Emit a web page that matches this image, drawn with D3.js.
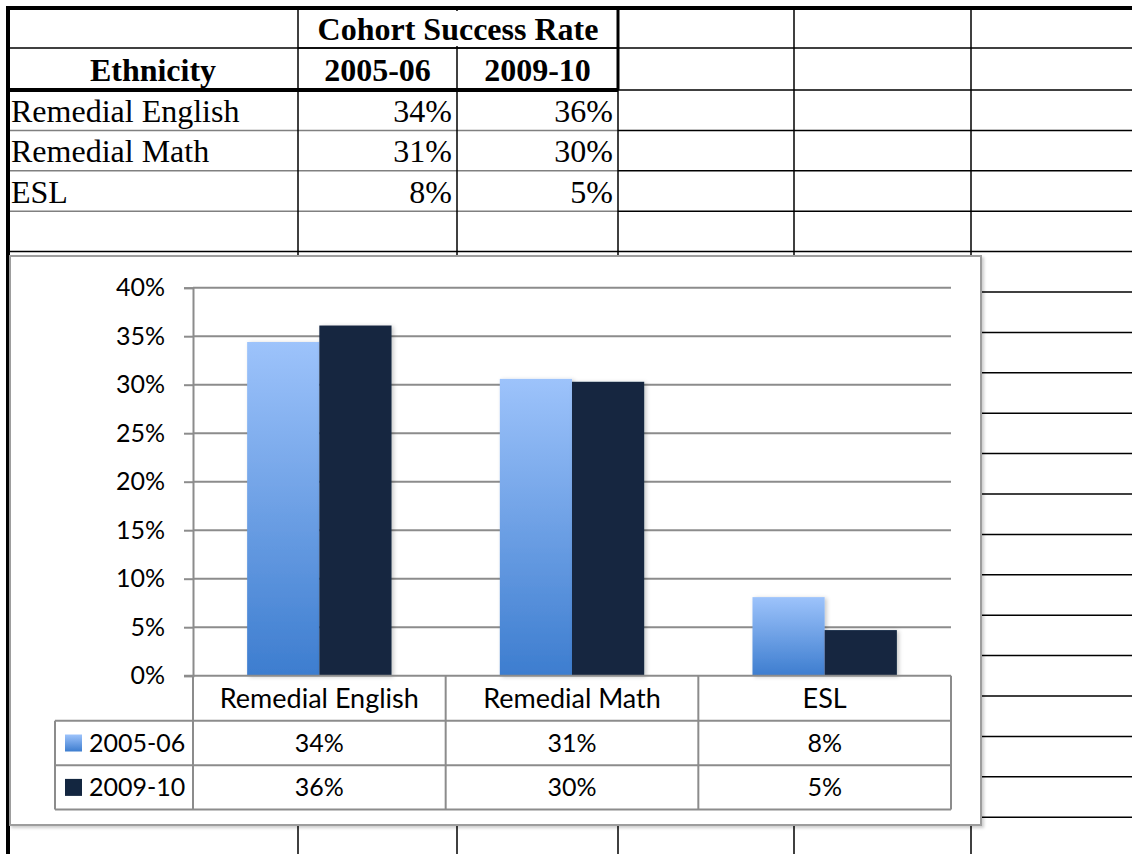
<!DOCTYPE html>
<html>
<head>
<meta charset="utf-8">
<script src="https://cdn.jsdelivr.net/npm/d3@7"></script>
<style>
  body { margin: 0; background: #fff; }
  svg { display: block; }
</style>
</head>
<body>
<svg width="1132" height="854"></svg>
<script>
const categories = ['Remedial English', 'Remedial Math', 'ESL'];
const seriesNames = ['2005-06', '2009-10'];
const values0506 = [0.344, 0.306, 0.081];
const values0910 = [0.361, 0.303, 0.047];
const yTicks = [0, 0.05, 0.1, 0.15, 0.2, 0.25, 0.3, 0.35, 0.4];

const series = [
  { name: seriesNames[0], values: values0506, fill: 'url(#lightGrad)' },
  { name: seriesNames[1], values: values0910, fill: '#132640' },
];

const pct = d3.format('.0%');
const svg = d3.select('svg');

const defs = svg.append('defs');
const grad = defs.append('linearGradient')
  .attr('id', 'lightGrad')
  .attr('x1', 0).attr('y1', 0).attr('x2', 0).attr('y2', 1);
grad.append('stop').attr('offset', '0%').attr('stop-color', '#9dc3fb');
grad.append('stop').attr('offset', '100%').attr('stop-color', '#3d7dcf');

const shadow = defs.append('filter').attr('id', 'shadow')
  .attr('x', '-10%').attr('y', '-10%').attr('width', '130%').attr('height', '130%');
shadow.append('feDropShadow')
  .attr('dx', 2).attr('dy', 1).attr('stdDeviation', 2)
  .attr('flood-color', '#000').attr('flood-opacity', 0.22);

const boxShadow = defs.append('filter').attr('id', 'boxShadow')
  .attr('x', '-2%').attr('y', '-2%').attr('width', '104%').attr('height', '104%');
boxShadow.append('feDropShadow')
  .attr('dx', 2).attr('dy', 2).attr('stdDeviation', 1.5)
  .attr('flood-color', '#000').attr('flood-opacity', 0.2);

// ---- spreadsheet behind the chart ----
const sheet = svg.append('g').attr('class', 'sheet');
const colX = [8, 298, 457, 618, 794, 971];
const rowY = [8, 48, 90];
for (let i = 1; i <= 18; i++) rowY.push(90 + i * 40.4);

// horizontal row lines (gray inside the data block, black elsewhere)
rowY.slice(1).forEach((ry, i) => {
  const inData = i >= 2 && i <= 4;
  sheet.append('line')
    .attr('x1', 8).attr('x2', inData ? 618 : 1132)
    .attr('y1', ry).attr('y2', ry)
    .attr('stroke', inData ? '#808080' : '#000')
    .attr('stroke-width', 1.5);
  if (inData) {
    sheet.append('line')
      .attr('x1', 618).attr('x2', 1132)
      .attr('y1', ry).attr('y2', ry)
      .attr('stroke', '#000').attr('stroke-width', 1.5);
  }
});

// vertical column lines
sheet.selectAll('line.col')
  .data(colX.slice(1))
  .enter()
  .append('line')
  .attr('class', 'col')
  .attr('x1', d => d).attr('x2', d => d)
  .attr('y1', 8).attr('y2', 854)
  .attr('stroke', '#000')
  .attr('stroke-width', 1.5);

// thick borders
sheet.append('line').attr('x1', 8).attr('x2', 1132).attr('y1', 8).attr('y2', 8)
  .attr('stroke', '#000').attr('stroke-width', 4);
sheet.append('line').attr('x1', 8).attr('x2', 8).attr('y1', 6).attr('y2', 854)
  .attr('stroke', '#000').attr('stroke-width', 4);
sheet.append('line').attr('x1', 8).attr('x2', 618).attr('y1', 90).attr('y2', 90)
  .attr('stroke', '#000').attr('stroke-width', 4);
sheet.append('line').attr('x1', 618).attr('x2', 618).attr('y1', 8).attr('y2', 90)
  .attr('stroke', '#000').attr('stroke-width', 3);
// merged header cell has no divider in first row
sheet.append('rect').attr('x', 300).attr('y', 11).attr('width', 316).attr('height', 35).attr('fill', '#fff');
sheet.append('line').attr('x1', 298).attr('x2', 618).attr('y1', 48).attr('y2', 48)
  .attr('stroke', '#000').attr('stroke-width', 1.5);

const serif = 'Liberation Serif, Times New Roman, serif';
sheet.append('text').text('Cohort Success Rate')
  .attr('x', (298 + 618) / 2).attr('y', 40)
  .attr('text-anchor', 'middle').attr('font-family', serif)
  .attr('font-weight', 'bold').attr('font-size', 32);
sheet.append('text').text('Ethnicity')
  .attr('x', (8 + 298) / 2).attr('y', 81)
  .attr('text-anchor', 'middle').attr('font-family', serif)
  .attr('font-weight', 'bold').attr('font-size', 32);
seriesNames.forEach((s, i) => {
  sheet.append('text').text(s)
    .attr('x', (colX[i + 1] + colX[i + 2]) / 2).attr('y', 81)
    .attr('text-anchor', 'middle').attr('font-family', serif)
    .attr('font-weight', 'bold').attr('font-size', 32);
});
categories.forEach((c, i) => {
  const y = rowY[2 + i] + 32;
  sheet.append('text').text(c)
    .attr('x', 11).attr('y', y)
    .attr('font-family', serif).attr('font-size', 32);
  series.forEach((s, j) => {
    sheet.append('text').text(pct(s.values[i]))
      .attr('x', colX[j + 2] - 5).attr('y', y)
      .attr('text-anchor', 'end')
      .attr('font-family', serif).attr('font-size', 32);
  });
});

// ---- chart ----
const font = 'Lato, Carlito, Calibri, sans-serif';
const chart = svg.append('g').attr('class', 'chart');
chart.append('rect')
  .attr('x', 10).attr('y', 256).attr('width', 971).attr('height', 569)
  .attr('fill', '#fff').attr('stroke', '#9d9d9d').attr('stroke-width', 2)
  .attr('filter', 'url(#boxShadow)');

const plot = { left: 193, right: 951, top: 287.7, bottom: 675.7 };

const y = d3.scaleLinear().domain([0, 0.4]).range([plot.bottom, plot.top]);
const x0 = d3.scaleBand().domain(categories).range([plot.left, plot.right]).padding(0);
const barW = x0.bandwidth() / 3.5;
const x1 = d3.scaleBand().domain(seriesNames)
  .range([barW * 0.75, x0.bandwidth() - barW * 0.75]).padding(0);

// gridlines
chart.append('g')
  .selectAll('line')
  .data(yTicks.slice(1))
  .enter()
  .append('line')
  .attr('x1', plot.left).attr('x2', plot.right)
  .attr('y1', d => y(d)).attr('y2', d => y(d))
  .attr('stroke', '#8c8c8c').attr('stroke-width', 2);

// y axis
const yAxis = chart.append('g')
  .attr('transform', `translate(${plot.left},0)`)
  .call(d3.axisLeft(y).tickValues(yTicks).tickFormat(pct).tickSize(9).tickPadding(19));
yAxis.select('.domain').attr('stroke', '#8c8c8c').attr('stroke-width', 2);
yAxis.selectAll('.tick line').attr('stroke', '#8c8c8c').attr('stroke-width', 2);
yAxis.selectAll('.tick text')
  .attr('font-family', font).attr('font-size', 25).attr('fill', '#000');

// bars
const groups = chart.append('g')
  .selectAll('g')
  .data(series)
  .enter()
  .append('g')
  .attr('fill', d => d.fill)
  .attr('filter', 'url(#shadow)');

groups.selectAll('rect')
  .data(s => s.values.map((v, i) => ({ cat: categories[i], name: s.name, v })))
  .enter()
  .append('rect')
  .attr('x', d => x0(d.cat) + x1(d.name))
  .attr('width', x1.bandwidth())
  .attr('y', d => y(d.v))
  .attr('height', d => y(0) - y(d.v));

// data table below the axis
const rowH = 45;
const tableRows = [plot.bottom, plot.bottom + rowH, plot.bottom + rowH * 2 - 0.4, plot.bottom + rowH * 3 - 1.2];
const legendLeft = 55;
const tbl = chart.append('g').attr('stroke', '#8c8c8c').attr('stroke-width', 2);

tbl.append('line').attr('x1', plot.left - 9).attr('x2', plot.right)
  .attr('y1', tableRows[0]).attr('y2', tableRows[0]);
tableRows.slice(1).forEach(ry => {
  tbl.append('line').attr('x1', legendLeft).attr('x2', plot.right)
    .attr('y1', ry).attr('y2', ry);
});
[plot.left, ...categories.map(c => x0(c) + x0.bandwidth())].forEach(cx => {
  tbl.append('line').attr('x1', cx).attr('x2', cx)
    .attr('y1', tableRows[0]).attr('y2', tableRows[3]);
});
tbl.append('line').attr('x1', legendLeft).attr('x2', legendLeft)
  .attr('y1', tableRows[1]).attr('y2', tableRows[3]);

chart.append('g')
  .selectAll('text')
  .data(categories)
  .enter()
  .append('text')
  .attr('x', d => x0(d) + x0.bandwidth() / 2)
  .attr('y', (tableRows[0] + tableRows[1]) / 2)
  .attr('dy', '0.35em')
  .attr('text-anchor', 'middle')
  .attr('font-family', font).attr('font-size', 27)
  .text(d => d);

series.forEach((s, j) => {
  const cy = (tableRows[j + 1] + tableRows[j + 2]) / 2;
  chart.append('rect')
    .attr('x', 65).attr('y', cy - 8.5).attr('width', 17).attr('height', 17)
    .attr('fill', s.fill);
  chart.append('text')
    .attr('x', 89).attr('y', cy).attr('dy', '0.35em')
    .attr('font-family', font).attr('font-size', 25)
    .text(s.name);
  chart.append('g')
    .selectAll('text')
    .data(s.values)
    .enter()
    .append('text')
    .attr('x', (d, i) => x0(categories[i]) + x0.bandwidth() / 2)
    .attr('y', cy).attr('dy', '0.35em')
    .attr('text-anchor', 'middle')
    .attr('font-family', font).attr('font-size', 25)
    .text(d => pct(d));
});
</script>
</body>
</html>
